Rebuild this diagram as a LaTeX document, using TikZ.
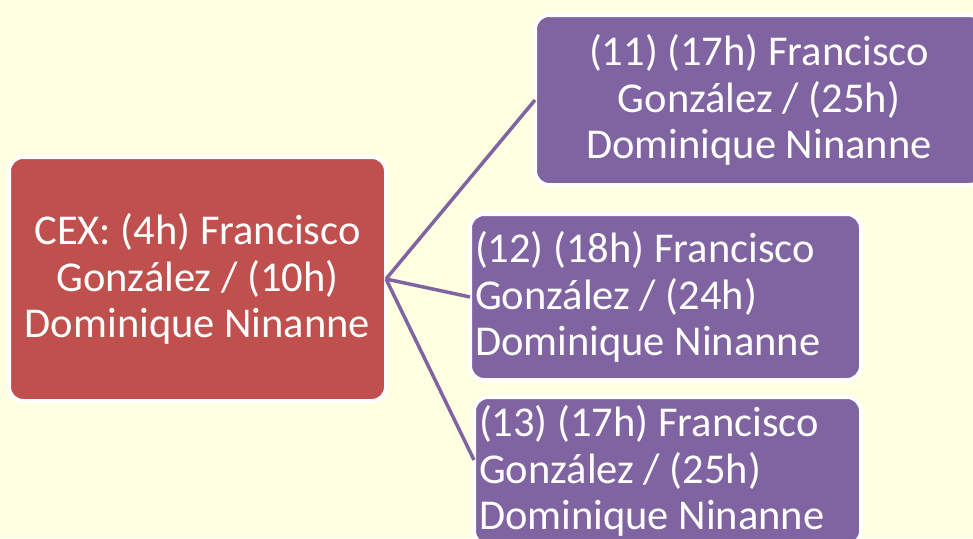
\documentclass[tikz,border=0pt]{standalone}
\usepackage{fontspec}
\setmainfont{Carlito}
\definecolor{bgyellow}{RGB}{255,255,225}
\definecolor{boxred}{RGB}{192,80,77}
\definecolor{boxpurple}{RGB}{128,100,162}
\tikzset{
  box/.style={draw=white, line width=4pt, rounded corners=14pt, text=white,
    inner sep=0pt, outer sep=0pt, font=\fontsize{42.5}{46.5}\selectfont},
  redbox/.style={box, fill=boxred},
  purplebox/.style={box, fill=boxpurple},
  link/.style={draw=boxpurple, line width=3.5pt}
}
\begin{document}
\begin{tikzpicture}[x=1pt,y=-1pt]
\clip (0,0) rectangle (973,538);
\fill[bgyellow] (0,0) rectangle (973,538);
\node[redbox, minimum width=377pt, minimum height=244pt, align=center] (cex) at (197.5,279)
  {CEX: (4h) Francisco\\González / (10h)\\Dominique Ninanne};
\node[purplebox, minimum width=448pt, minimum height=170pt, align=center] (n11) at (759,100)
  {(11) (17h) Francisco\\González / (25h)\\Dominique Ninanne};
\node[purplebox, minimum width=391pt, minimum height=166pt, text width=381pt, align=flush left] (n12) at (665.5,297)
  {(12) (18h) Francisco\\González / (24h)\\Dominique Ninanne};
\node[purplebox, minimum width=387pt, minimum height=148pt, text width=377pt, align=flush left] (n13) at (667.5,471)
  {(13) (17h) Francisco\\González / (25h)\\Dominique Ninanne};
\draw[link] (cex.east) -- (n11.west);
\draw[link] (cex.east) -- (n12.west);
\draw[link] (cex.east) -- ([yshift=11pt]n13.west);
\end{tikzpicture}
\end{document}
